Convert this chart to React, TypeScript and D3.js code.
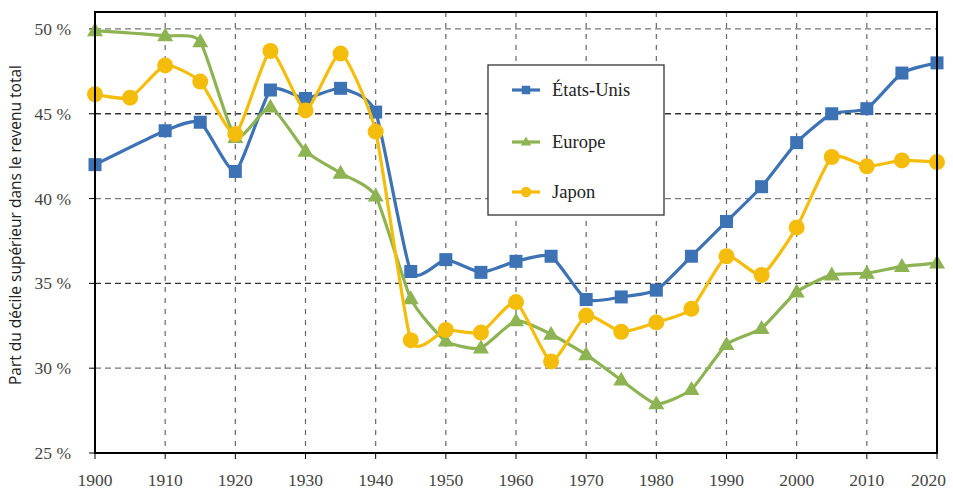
import React from "react";
import * as d3 from "d3";

const usYears = [1900, 1910, 1915, 1920, 1925, 1930, 1935, 1940, 1945, 1950, 1955, 1960, 1965, 1970, 1975, 1980, 1985, 1990, 1995, 2000, 2005, 2010, 2015, 2020];
const usValues = [42.0, 44.0, 44.5, 41.6, 46.4, 45.9, 46.5, 45.1, 35.7, 36.4, 35.65, 36.3, 36.6, 34.05, 34.2, 34.6, 36.6, 38.65, 40.7, 43.3, 45.0, 45.3, 47.4, 48.0];

const euYears = [1900, 1910, 1915, 1920, 1925, 1930, 1935, 1940, 1945, 1950, 1955, 1960, 1965, 1970, 1975, 1980, 1985, 1990, 1995, 2000, 2005, 2010, 2015, 2020];
const euValues = [49.9, 49.6, 49.25, 43.6, 45.4, 42.8, 41.5, 40.15, 34.1, 31.6, 31.2, 32.8, 32.0, 30.8, 29.3, 27.9, 28.75, 31.4, 32.35, 34.5, 35.5, 35.6, 36.0, 36.2];

const jpYears = [1900, 1905, 1910, 1915, 1920, 1925, 1930, 1935, 1940, 1945, 1950, 1955, 1960, 1965, 1970, 1975, 1980, 1985, 1990, 1995, 2000, 2005, 2010, 2015, 2020];
const jpValues = [46.15, 45.95, 47.85, 46.9, 43.8, 48.7, 45.2, 48.55, 43.95, 31.65, 32.25, 32.1, 33.9, 30.4, 33.1, 32.15, 32.7, 33.5, 36.6, 35.5, 38.3, 42.45, 41.9, 42.25, 42.15];

const xTicks = [1900, 1910, 1920, 1930, 1940, 1950, 1960, 1970, 1980, 1990, 2000, 2010, 2020];
const yTicks = [25, 30, 35, 40, 45, 50];

const seriesNames = ["États-Unis", "Europe", "Japon"];
const colors = ["#3D72B4", "#8DB353", "#F5BD0B"];

const yTitle = "Part du décile supérieur dans le revenu total";

const serif = "'Liberation Serif'";
const sans = "'Open Sans'";

export default function App() {
  const W = 953, H = 491;
  const left = 95, right = 937, top = 12, bottom = 453;
  const x = d3.scaleLinear().domain([1900, 2020]).range([left, right]);
  const y = d3.scaleLinear().domain([25, 51]).range([bottom, top]);
  const line = d3.line<[number, number]>()
    .x(d => x(d[0])).y(d => y(d[1]))
    .curve(d3.curveCardinal.tension(0.45));

  const series = [
    { years: usYears, values: usValues, marker: "square" },
    { years: euYears, values: euValues, marker: "triangle" },
    { years: jpYears, values: jpValues, marker: "circle" },
  ];

  const marker = (type: string, cx: number, cy: number, color: string, key: any, k = 1) => {
    if (type === "square") return <rect key={key} x={cx - 6.5 * k} y={cy - 6.5 * k} width={13 * k} height={13 * k} fill={color} />;
    if (type === "circle") return <circle key={key} cx={cx} cy={cy} r={8 * k} fill={color} />;
    const s = 16 * k;
    const h = s * Math.sqrt(3) / 2;
    const p = `${cx},${cy - h * 0.6} ${cx - s / 2},${cy + h * 0.4} ${cx + s / 2},${cy + h * 0.4}`;
    return <polygon key={key} points={p} fill={color} />;
  };

  const legendX = 488, legendY = 65, legendW = 176, legendH = 150;
  const legendRows = [90, 142, 192];

  return (
    <svg width={W} height={H} style={{ position: "absolute", left: 0, top: 0, background: "#fff" }}>
      <rect x={0} y={0} width={W} height={H} fill="#fff" />
      {/* grid */}
      {yTicks.filter(t => t > 25).map(t => (
        <line key={"gy" + t} x1={left} x2={right} y1={y(t)} y2={y(t)} stroke={t % 10 === 5 ? "#333" : "#777"} strokeWidth={1.3} strokeDasharray="6,4" />
      ))}
      {xTicks.filter(t => t > 1900 && t < 2020).map(t => (
        <line key={"gx" + t} x1={x(t)} x2={x(t)} y1={top} y2={bottom} stroke="#666" strokeWidth={1.2} strokeDasharray="5,6" />
      ))}
      {/* ticks */}
      {yTicks.map(t => (
        <line key={"ty" + t} x1={left - 6} x2={left} y1={y(t)} y2={y(t)} stroke="#000" strokeWidth={1} />
      ))}
      {xTicks.map(t => (
        <line key={"tx" + t} x1={x(t)} x2={x(t)} y1={bottom} y2={bottom + 6} stroke="#000" strokeWidth={1} />
      ))}
      {/* tick labels */}
      {yTicks.map(t => (
        <text key={"ly" + t} x={71} y={y(t) + 6} textAnchor="end" style={{ fontFamily: serif, fontSize: 17.5 }} fill="#444">{`${t} %`}</text>
      ))}
      {xTicks.map((t, i) => {
        const last = i === xTicks.length - 1;
        return (
          <text key={"lx" + t} x={last ? 946 : x(t)} y={486} textAnchor={last ? "end" : "middle"} style={{ fontFamily: serif, fontSize: 17.5 }} fill="#444">{t}</text>
        );
      })}
      <text transform={`translate(21, 225) rotate(-90)`} textAnchor="middle" style={{ fontFamily: sans, fontSize: 15.5 }} fill="#222">{yTitle}</text>
      {/* series */}
      {series.map((s, i) => {
        const pts: [number, number][] = s.years.map((yr, j) => [yr, s.values[j]]);
        return (
          <g key={"s" + i}>
            <path d={line(pts) || ""} fill="none" stroke={colors[i]} strokeWidth={3.2} />
            {pts.map((p, j) => marker(s.marker, x(p[0]), y(p[1]), colors[i], j))}
          </g>
        );
      })}
      {/* frame */}
      <rect x={left} y={top} width={right - left} height={bottom - top} fill="none" stroke="#000" strokeWidth={2} />
      {/* legend */}
      <rect x={legendX} y={legendY} width={legendW} height={legendH} fill="#fff" stroke="#333" strokeWidth={1.3} />
      {seriesNames.map((n, i) => (
        <g key={"lg" + i}>
          <line x1={512} x2={540} y1={legendRows[i]} y2={legendRows[i]} stroke={colors[i]} strokeWidth={3.2} />
          {marker(series[i].marker, 526, legendRows[i], colors[i], "m", 0.65)}
          <text x={552} y={legendRows[i] + 6} style={{ fontFamily: serif, fontSize: 18.5 }} fill="#222">{n}</text>
        </g>
      ))}
    </svg>
  );
}
